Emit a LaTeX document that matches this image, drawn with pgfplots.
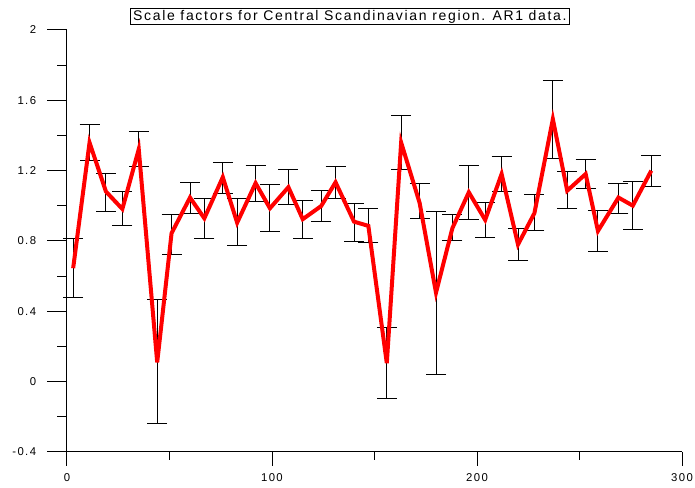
\documentclass[border=0pt]{standalone}
\usepackage{pgfplots}
\pgfplotsset{compat=1.18}
\usepackage{pgfplotstable}
\usepackage{fontspec}
\setmainfont{Liberation Sans}
\newfontfamily\tickfont[LetterSpace=12]{Liberation Sans}
\newfontfamily\titlefont[LetterSpace=12]{Liberation Sans}
\pgfplotstableread{
x y hi lo
3 0.645 0.816 0.480
11 1.360 1.460 1.255
19 1.081 1.185 0.967
27 0.982 1.083 0.886
35 1.322 1.424 1.223
44 0.110 0.465 -0.237
51 0.844 0.948 0.726
60 1.047 1.134 0.956
67 0.929 1.043 0.816
76 1.163 1.248 1.069
83 0.904 1.041 0.776
92 1.129 1.229 1.026
99 0.986 1.119 0.852
108 1.106 1.208 1.009
115 0.924 1.030 0.816
124 0.999 1.086 0.912
131 1.134 1.223 1.041
140 0.910 1.013 0.796
147 0.886 0.982 0.791
156 0.105 0.309 -0.098
163 1.360 1.513 1.204
172 1.017 1.129 0.927
180 0.506 0.967 0.040
188 0.873 0.948 0.802
196 1.077 1.229 0.924
204 0.920 1.018 0.821
212 1.181 1.280 1.082
220 0.780 0.870 0.691
228 0.958 1.062 0.861
237 1.493 1.712 1.267
244 1.086 1.195 0.986
253 1.181 1.263 1.100
259 0.857 0.973 0.742
269 1.047 1.126 0.958
276 1.001 1.136 0.863
285 1.200 1.286 1.108
}\data
\begin{document}
\begin{tikzpicture}
\begin{axis}[
  at={(0,0)}, anchor=south west,
  width=461.25pt, height=316.5pt, scale only axis,
  xmin=0, xmax=300, ymin=-0.4, ymax=2,
  axis lines=left, axis line style={-, black, line width=0.75pt},
  tick align=inside,
  xtick={0,100,200,300}, xticklabels={0,100,200,300},
  ytick={-0.4,0,0.4,0.8,1.2,1.6,2},
  yticklabels={-0.4,0,0.4,0.8,1.2,1.6,2},
  minor xtick={50,150,250}, minor ytick={-0.2,0.2,0.6,1.0,1.4,1.8},
  major tick length=-15pt, minor tick length=-7.5pt,
  xtick style={/pgfplots/major tick length=-10.5pt, /pgfplots/minor tick length=-6pt},
  tick style={black, line width=0.75pt},
  ticklabel style={font=\tickfont\fontsize{8.5}{10}\selectfont},
  xticklabel style={anchor=north, yshift=-13pt},
  yticklabel style={anchor=east, xshift=-23pt, text width=28pt, align=right, inner xsep=0pt},
  title={\titlefont\fontsize{10.5}{12}\selectfont Scale factors for Central Scandinavian region. AR1 data.},
  every axis title/.style={at={(0.46,1)}, anchor=center, yshift=10pt, draw=black, line width=0.6pt, inner xsep=2pt, inner ysep=1pt},
  clip=false,
]
\addplot[draw=none, mark=none, forget plot,
  error bars/.cd, y dir=both, y explicit,
  error bar style={draw=black, line width=0.75pt},
  error mark options={rotate=90, draw=black, mark size=7.5pt, line width=0.75pt}]
  table[x=x, y=y, y error plus expr=\thisrow{hi}-\thisrow{y}, y error minus expr=\thisrow{y}-\thisrow{lo}] {\data};
\addplot[red, line width=3pt, mark=none, line join=miter] table[x=x, y=y] {\data};
\end{axis}
\pgfresetboundingbox
\path[use as bounding box] (-50.25pt,-27pt) rectangle (471pt,339pt);
\end{tikzpicture}
\end{document}
